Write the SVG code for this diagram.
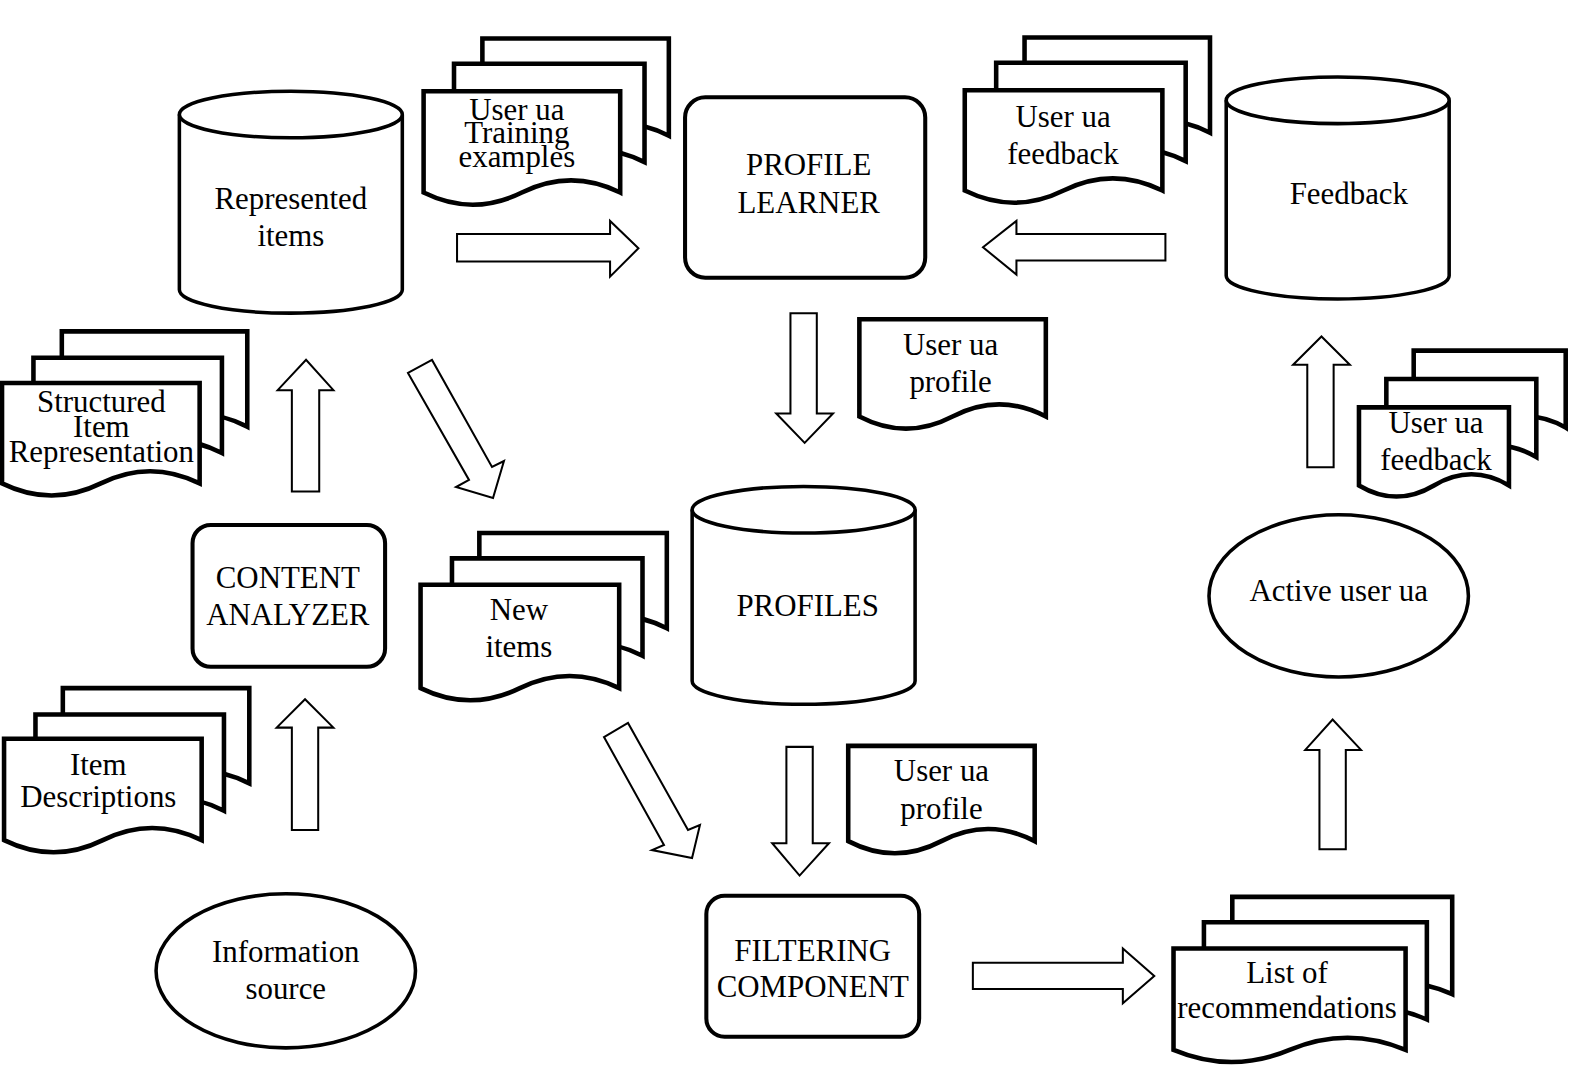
<svg xmlns="http://www.w3.org/2000/svg" width="1589" height="1065" viewBox="0 0 1589 1065">
<style>
.pg{fill:#fff;stroke:#000;stroke-width:4.5;stroke-linejoin:miter}
.cyl{fill:#fff;stroke:#000;stroke-width:3.5}
.box{fill:#fff;stroke:#000;stroke-width:4}
.ell{fill:#fff;stroke:#000;stroke-width:3.5}
.arr{fill:#fff;stroke:#000;stroke-width:2;stroke-linejoin:miter}
text{font-family:"Liberation Serif","Times New Roman",serif;font-size:30.5px;text-anchor:middle;fill:#000}
</style>
<rect width="1589" height="1065" fill="#fff"/>
<g transform="scale(1.0134)">
<g id="connectors">
<polygon class="arr" points="451,231 602,231 602,218 630,245 602,273 602,258 451,258"/>
<polygon class="arr" points="1150,231 1003,231 1003,218 970,244 1003,271 1003,257 1150,257"/>
<polygon class="arr" points="780,309 806,309 806,408 822,408 794,437 766,408 780,408"/>
<polygon class="arr" points="288,485 288,385 274,385 302,355 329,385 315,385 315,485"/>
<polygon class="arr" points="288,819 288,718 273,718 301,690 329,718 314,718 314,819"/>
<polygon class="arr" points="402.6,368 462.8,473.6 450,480.6 486.5,491.4 497.3,454.9 485.5,460.8 426.3,355.2"/>
<polygon class="arr" points="596,727.3 655.2,833.8 643.4,838.8 682.9,846.7 690.7,814.1 678.9,819 619.7,713.4"/>
<polygon class="arr" points="776,737 802,737 802,832 818,832 789,864 762,832 776,832"/>
<polygon class="arr" points="960,950 1108,950 1108,936 1139,963 1108,990 1108,976 960,976"/>
<polygon class="arr" points="1302,838 1302,740 1288,740 1315,710 1343,740 1328,740 1328,838"/>
<polygon class="arr" points="1290,461 1290,360 1276,360 1304,332 1332,360 1316,360 1316,461"/>
</g>
<g id="represented-items">
<path class="cyl" d="M177,113 V286 A110,23 0 0 0 397,286 V113"/>
<ellipse class="cyl" cx="287" cy="113" rx="110" ry="23"/>
<text x="287" y="206">Represented</text>
<text x="287" y="243">items</text>
</g>
<g id="training-examples">
<path class="pg" d="M476,38 H660 V134 Q614,110 568,134 Q522,158 476,134 Z"/>
<path class="pg" d="M448,63 H636 V160 Q589,136 542,160 Q495,184 448,160 Z"/>
<path class="pg" d="M418,90 H612 V190 Q563.5,166 515,190 Q466.5,214 418,190 Z"/>
<text x="510" y="118">User ua</text>
<text x="510" y="141">Training</text>
<text x="510" y="165">examples</text>
</g>
<g id="profile-learner">
<rect class="box" x="676" y="96" width="237" height="178" rx="20"/>
<text x="798" y="173">PROFILE</text>
<text x="798" y="210">LEARNER</text>
</g>
<g id="feedback-docs-top">
<path class="pg" d="M1011,37 H1194 V131 Q1148,107 1102.5,131 Q1057,155 1011,131 Z"/>
<path class="pg" d="M983,62 H1170 V159 Q1123,135 1076.5,159 Q1030,183 983,159 Z"/>
<path class="pg" d="M952,89 H1147 V188 Q1098,164 1049.5,188 Q1001,212 952,188 Z"/>
<text x="1049" y="125">User ua</text>
<text x="1049" y="162">feedback</text>
</g>
<g id="feedback-db">
<path class="cyl" d="M1210,99 V272 A110,23 0 0 0 1430,272 V99"/>
<ellipse class="cyl" cx="1320" cy="99" rx="110" ry="23"/>
<text x="1331" y="201">Feedback</text>
</g>
<g id="user-profile-1">
<path class="pg" d="M848,315 H1032 V411 Q986,387 940,411 Q894,435 848,411 Z"/>
<text x="938" y="350">User ua</text>
<text x="938" y="387">profile</text>
</g>
<g id="structured-items">
<path class="pg" d="M61,327 H244 V421 Q198,397 152.5,421 Q107,445 61,421 Z"/>
<path class="pg" d="M33,353 H219 V447 Q172.5,423 126,447 Q79.5,471 33,447 Z"/>
<path class="pg" d="M2,378 H197 V477 Q148,453 99.5,477 Q51,501 2,477 Z"/>
<text x="100" y="407">Structured</text>
<text x="100" y="431">Item</text>
<text x="100" y="456">Representation</text>
</g>
<g id="content-analyzer">
<rect class="box" x="190" y="518" width="190" height="140" rx="18"/>
<text x="284" y="580">CONTENT</text>
<text x="284" y="617">ANALYZER</text>
</g>
<g id="new-items">
<path class="pg" d="M473,526 H658 V620 Q611.75,596 565.5,620 Q519.25,644 473,620 Z"/>
<path class="pg" d="M446,551 H634 V647 Q587,623 540,647 Q493,671 446,647 Z"/>
<path class="pg" d="M415,577 H611 V679 Q562,655 513,679 Q464,703 415,679 Z"/>
<text x="512" y="612">New</text>
<text x="512" y="648">items</text>
</g>
<g id="profiles">
<path class="cyl" d="M683,503 V672 A110,23 0 0 0 903,672 V503"/>
<ellipse class="cyl" cx="793" cy="503" rx="110" ry="23"/>
<text x="797" y="608">PROFILES</text>
</g>
<g id="item-descriptions">
<path class="pg" d="M62,679 H246 V773 Q200,749 154,773 Q108,797 62,773 Z"/>
<path class="pg" d="M35,705 H221 V800 Q174.5,776 128,800 Q81.5,824 35,800 Z"/>
<path class="pg" d="M4,729 H199 V829 Q150,805 101.5,829 Q53,853 4,829 Z"/>
<text x="97" y="765">Item</text>
<text x="97" y="796">Descriptions</text>
</g>
<g id="user-profile-2">
<path class="pg" d="M837,736 H1021 V830 Q975,806 929,830 Q883,854 837,830 Z"/>
<text x="929" y="771">User ua</text>
<text x="929" y="808">profile</text>
</g>
<g id="information-source">
<ellipse class="ell" cx="282" cy="958" rx="128" ry="76"/>
<text x="282" y="949">Information</text>
<text x="282" y="986">source</text>
</g>
<g id="filtering-component">
<rect class="box" x="697" y="884" width="210" height="139" rx="18"/>
<text x="802" y="948">FILTERING</text>
<text x="802" y="984">COMPONENT</text>
</g>
<g id="list-of-recommendations">
<path class="pg" d="M1216,885 H1433 V981 Q1378.75,957 1324.5,981 Q1270.25,1005 1216,981 Z"/>
<path class="pg" d="M1188,910 H1408 V1006 Q1353,982 1298,1006 Q1243,1030 1188,1006 Z"/>
<path class="pg" d="M1158,936 H1387 V1036 Q1329.75,1012 1272.5,1036 Q1215.25,1060 1158,1036 Z"/>
<text x="1270" y="970">List of</text>
<text x="1270" y="1005">recommendations</text>
</g>
<g id="active-user">
<ellipse class="ell" cx="1321" cy="588" rx="128" ry="80"/>
<text x="1321" y="593">Active user ua</text>
</g>
<g id="feedback-docs-right">
<path class="pg" d="M1395,346 H1545 V422 Q1507.5,400 1470,422 Q1432.5,444 1395,422 Z"/>
<path class="pg" d="M1368,374 H1516 V451 Q1479,429 1442,451 Q1405,473 1368,451 Z"/>
<path class="pg" d="M1341,402 H1489 V479 Q1452,457 1415,479 Q1378,501 1341,479 Z"/>
<text x="1417" y="427">User ua</text>
<text x="1417" y="464">feedback</text>
</g>
</g>
</svg>
